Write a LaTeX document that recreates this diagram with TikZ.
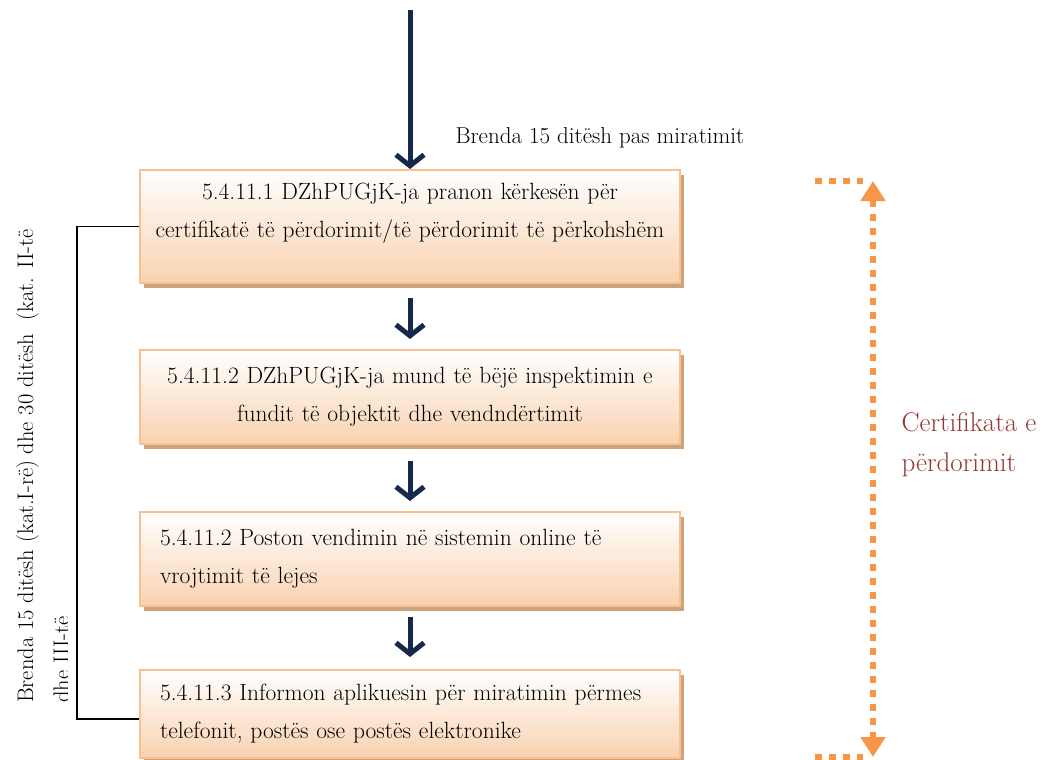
\documentclass[tikz,border=0pt]{standalone}
\usepackage{fontspec}
\usetikzlibrary{arrows.meta,shadows,positioning}

\definecolor{navyarrow}{HTML}{17294A}
\definecolor{boxline}{HTML}{FAC08F}
\definecolor{boxfill}{HTML}{F9D2B0}
\definecolor{boxshadow}{HTML}{CFA27E}
\definecolor{certorange}{HTML}{F79646}
\definecolor{certred}{HTML}{943634}

\tikzset{
  stepbox/.style={draw=boxline, line width=2pt, top color=white, bottom color=boxfill,
    minimum width=540pt, minimum height=94pt, inner xsep=5pt, text width=530pt,
    font=\fontsize{23.5}{38}\selectfont,
    drop shadow={shadow xshift=4pt, shadow yshift=-5pt, fill=boxshadow, opacity=1}},
  leftstep/.style={stepbox, align=left, inner xsep=20pt, text width=500pt},
  flowarrow/.style={navyarrow, line width=5pt, -{Straight Barb[length=11pt,width=28pt]}},
  spanarrow/.style={certorange, line width=6pt, dash pattern=on 7pt off 7pt},
}

\begin{document}
\begin{tikzpicture}[x=1pt, y=-1pt]
	\useasboundingbox (0,0) rectangle (1047,760);

	% hapat
	\node[stepbox, align=center, minimum height=113pt, text depth=70pt] (pranon) at (410,226.5)
		{5.4.11.1 DZhPUGjK-ja pranon kërkesën për\\certifikatë të përdorimit/të përdorimit të përkohshëm};
	\node[stepbox, align=center, below=65pt of pranon] (inspektim)
		{5.4.11.2 DZhPUGjK-ja mund të bëjë inspektimin e\\fundit të objektit dhe vendndërtimit};
	\node[leftstep, below=66pt of inspektim] (poston)
		{5.4.11.2 Poston vendimin në sistemin online të\\vrojtimit të lejes};
	\node[leftstep, minimum height=88pt, below=62pt of poston] (informon)
		{5.4.11.3 Informon aplikuesin për miratimin përmes\\telefonit, postës ose postës elektronike};

	% shigjetat
	\coordinate (hyrja) at (410,10);
	\draw[flowarrow] (hyrja) -- (pranon.north);
	\draw[flowarrow, shorten <=14pt, shorten >=10pt] (pranon) -- (inspektim);
	\draw[flowarrow, shorten <=16pt, shorten >=10pt] (inspektim) -- (poston);
	\draw[flowarrow, shorten <=10pt, shorten >=12pt] (poston) -- (informon);

	\node[anchor=west, font=\fontsize{23}{30}\selectfont] (afati) at (452,138) {Brenda 15 ditësh pas miratimit};

	% kllapa majtas
	\draw[black, line width=1.2pt] (pranon.west) -- ++(-62,0) |- ([yshift=-5pt]informon.west);
	\begin{scope}
		\clip (0,0) rectangle (67,760);
		\node[rotate=90, anchor=north west, align=left, inner sep=0pt, font=\fontsize{22.5}{36}\selectfont] (kohezgjatja) at (16,703)
			{Brenda 15 ditësh (kat.I-rë) dhe 30 ditësh\ \ (kat. II-të\\dhe III-të};
	\end{scope}

	% certifikata
	\coordinate (siperm) at (815,181);
	\coordinate (sipermdj) at (873,181);
	\coordinate (poshtem) at (815,757);
	\coordinate (poshtemdj) at (873,757);
	\draw[spanarrow] (siperm) -- ([xshift=-10pt]sipermdj);
	\draw[spanarrow] (poshtem) -- ([xshift=-10pt]poshtemdj);
	\draw[spanarrow, {Triangle[length=20pt,width=24pt]}-{Triangle[length=20pt,width=24pt]}] (sipermdj) -- (poshtemdj);
	\node[anchor=west, align=left, text=certred, font=\fontsize{27}{40}\selectfont] (certifikata) at (898,445)
		{Certifikata e\\përdorimit};
\end{tikzpicture}
\end{document}
